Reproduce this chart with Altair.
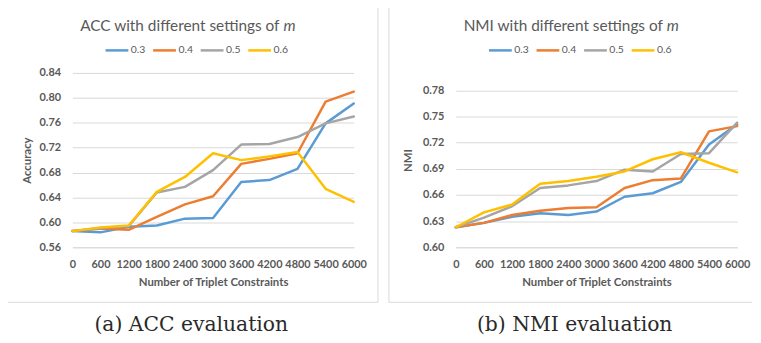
import altair as alt
import pandas as pd

# ---------------- data ----------------
x_vals = [0, 600, 1200, 1800, 2400, 3000, 3600, 4200, 4800, 5400, 6000]
series = ["0.3", "0.4", "0.5", "0.6"]
colors = ["#5B9BD5", "#ED7D31", "#A5A5A5", "#FFC000"]

acc_03 = [0.586, 0.584, 0.593, 0.595, 0.606, 0.607, 0.665, 0.668, 0.686, 0.759, 0.791]
acc_04 = [0.586, 0.590, 0.588, 0.609, 0.629, 0.642, 0.694, 0.702, 0.711, 0.794, 0.810]
acc_05 = [0.586, 0.591, 0.594, 0.648, 0.657, 0.684, 0.725, 0.726, 0.737, 0.759, 0.770]
acc_06 = [0.586, 0.592, 0.595, 0.649, 0.673, 0.711, 0.700, 0.706, 0.713, 0.654, 0.633]

nmi_03 = [0.623, 0.628, 0.635, 0.639, 0.637, 0.641, 0.658, 0.662, 0.675, 0.718, 0.741]
nmi_04 = [0.623, 0.628, 0.637, 0.642, 0.645, 0.646, 0.668, 0.677, 0.679, 0.733, 0.739]
nmi_05 = [0.623, 0.634, 0.647, 0.668, 0.671, 0.676, 0.689, 0.687, 0.707, 0.708, 0.743]
nmi_06 = [0.623, 0.640, 0.649, 0.673, 0.676, 0.681, 0.687, 0.701, 0.709, 0.697, 0.686]

acc_ticks = [0.56, 0.60, 0.64, 0.68, 0.72, 0.76, 0.80, 0.84]
nmi_ticks = [0.60, 0.63, 0.66, 0.69, 0.72, 0.75, 0.78]

acc_title = "ACC with different settings of"
nmi_title = "NMI with different settings of"
title_var = "m"
x_title = "Number of Triplet Constraints"
cap_a = "(a) ACC evaluation"
cap_b = "(b) NMI evaluation"


def long_df(cols):
    rows = []
    for name, vals in zip(series, cols):
        for xv, yv in zip(x_vals, vals):
            rows.append({"x": xv, "value": yv, "m": name})
    return pd.DataFrame(rows)


acc_df = long_df([acc_03, acc_04, acc_05, acc_06])
nmi_df = long_df([nmi_03, nmi_04, nmi_05, nmi_06])
one = pd.DataFrame({"k": [0]})

GRAY_TXT = "#595959"
GRID = "#d9d9d9"
W, H = 284, 176


def panel(df, ydomain, yticks, ytitle, ytitle_x, title_main, caption, left_box):
    lines = alt.Chart(df).mark_line(strokeWidth=2.5, strokeJoin="round", strokeCap="round").encode(
        x=alt.X("x:Q",
                scale=alt.Scale(domain=[0, 6000], nice=False, zero=False),
                axis=alt.Axis(values=x_vals, format="d", title=x_title, grid=False,
                              ticks=False, tickSize=0, domain=True, domainColor=GRID,
                              labelFont="Lato", labelFontWeight="bold", labelFontSize=11,
                              labelColor=GRAY_TXT, labelFlush=False, labelBaseline="alphabetic",
                              labelPadding=20, labelOverlap=False,
                              titleFont="Lato", titleFontWeight="bold", titleFontSize=11.5,
                              titleColor=GRAY_TXT, titleBaseline="alphabetic", titleY=38.5)),
        y=alt.Y("value:Q",
                scale=alt.Scale(domain=ydomain, nice=False, zero=False),
                axis=alt.Axis(values=yticks, format=".2f", title=ytitle, grid=True,
                              gridColor=GRID, gridWidth=1, domain=False, ticks=False, tickSize=0,
                              labelFont="Lato", labelFontWeight="bold", labelFontSize=11,
                              labelColor=GRAY_TXT, labelPadding=12,
                              titleFont="Lato", titleFontWeight="bold", titleFontSize=11.5,
                              titleColor=GRAY_TXT, titleX=ytitle_x, titleY=H / 2,
                              titleAlign="center", titleBaseline="middle", titleAngle=270)),
        color=alt.Color("m:N",
                        scale=alt.Scale(domain=series, range=colors),
                        legend=alt.Legend(orient="none", legendX=32, legendY=-36,
                                          direction="horizontal", title=None,
                                          symbolType="stroke", symbolSize=529,
                                          symbolStrokeWidth=2.5, labelFont="Lato",
                                          labelFontSize=10.5, labelColor=GRAY_TXT,
                                          labelOffset=1, columnPadding=2)),
    )
    t_main = alt.Chart(one).mark_text(text=title_main, font="Lato", fontSize=15.5,
                                      color=GRAY_TXT, align="right", baseline="alphabetic").encode(
        x=alt.value(209), y=alt.value(-42.5))
    t_m = alt.Chart(one).mark_text(text=title_var, font="Lato", fontSize=15.5, fontStyle="italic",
                                   color=GRAY_TXT, align="left", baseline="alphabetic").encode(
        x=alt.value(213), y=alt.value(-42.5))
    cap = alt.Chart(one).mark_text(text=caption, font="DejaVu Serif", fontSize=20.5,
                                   color="#2a2a2a", align="center", baseline="alphabetic").encode(
        x=alt.value(120), y=alt.value(260))
    if left_box:
        box = [alt.Chart(one).mark_rect(fill="white", fillOpacity=0, stroke=GRID, strokeWidth=1).encode(
            x=alt.value(-68.5), x2=alt.value(308.5), y=alt.value(-68.5), y2=alt.value(231.5))]
    else:
        box = [
            alt.Chart(one).mark_rule(color=GRID, strokeWidth=1).encode(
                x=alt.value(-67.5), x2=alt.value(299), y=alt.value(-68.5)),
            alt.Chart(one).mark_rule(color=GRID, strokeWidth=1).encode(
                x=alt.value(-67.5), x2=alt.value(299), y=alt.value(231.5)),
            alt.Chart(one).mark_rule(color=GRID, strokeWidth=1).encode(
                x=alt.value(-67.5), y=alt.value(-68.5), y2=alt.value(231.5)),
        ]
    return alt.layer(*box, lines, t_main, t_m, cap).properties(width=W, height=H)


left = panel(acc_df, [0.56, 0.84], acc_ticks, "Accuracy", -45, acc_title, cap_a, True)
right = panel(nmi_df, [0.60, 0.80], nmi_ticks, "NMI", -47.5, nmi_title, cap_b, False)

chart = alt.hconcat(left, right, spacing=103, bounds="flush").resolve_scale(
    x="independent", y="independent", color="independent"
).resolve_legend(color="independent").configure_view(stroke=None).properties(
    padding={"left": -4, "top": -5, "right": 0, "bottom": 0},
    background="white",
)

chart.save("out.html", embed_options={"renderer": "svg", "actions": False})
